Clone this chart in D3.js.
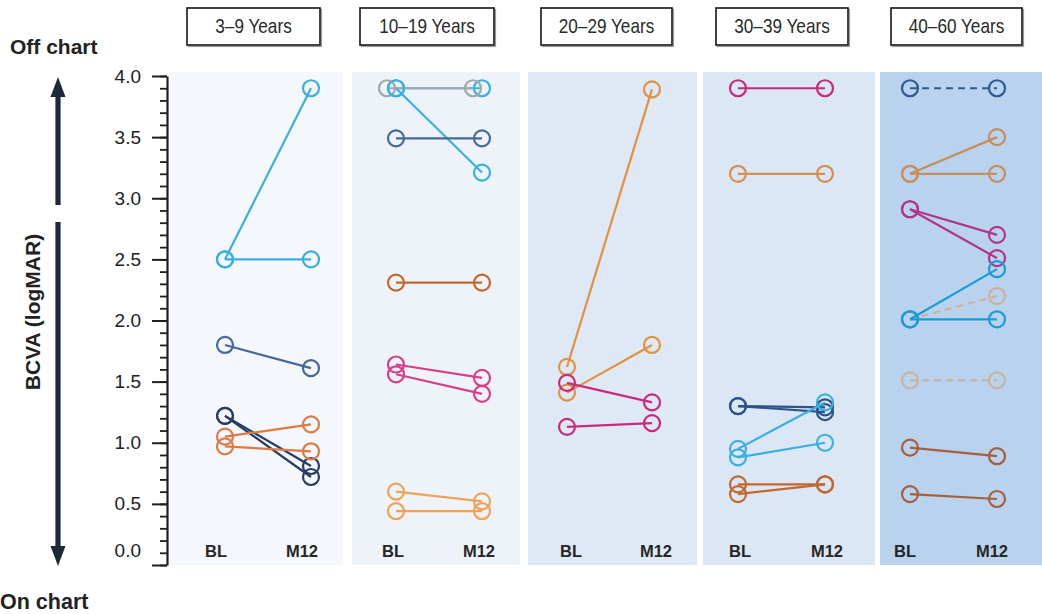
<!DOCTYPE html>
<html>
<head>
<meta charset="utf-8">
<script src="https://cdn.jsdelivr.net/npm/d3@7"></script>
<style>
  html, body { margin: 0; padding: 0; background: #ffffff; }
  svg { display: block; }
</style>
</head>
<body>
<svg id="chart" width="1042" height="614"></svg>
<script>
// ---- data -------------------------------------------------------------
const ageGroups = ["3–9 Years", "10–19 Years", "20–29 Years", "30–39 Years", "40–60 Years"];
const timepoints = ["BL", "M12"];
const majorTicks = [0, 0.5, 1, 1.5, 2, 2.5, 3, 3.5, 4];
const minorTicks = d3.range(0, 41).map(i => i / 10);

// one entry per eye: baseline and month-12 BCVA (logMAR)
const eyes3to9 = [
  { tone: "sky",    bl: 2.5,  m12: 3.9 },
  { tone: "sky",    bl: 2.5,  m12: 2.5 },
  { tone: "steel",  bl: 1.8,  m12: 1.61 },
  { tone: "navy",   bl: 1.22, m12: 0.81 },
  { tone: "navy",   bl: 1.22, m12: 0.72 },
  { tone: "orange", bl: 1.05, m12: 1.15 },
  { tone: "orange", bl: 0.97, m12: 0.93 }
];
const eyes10to19 = [
  { tone: "sky",     bl: 3.9,  m12: 3.9 },
  { tone: "grey",    bl: 3.9,  m12: 3.9 },
  { tone: "sky",     bl: 3.9,  m12: 3.21 },
  { tone: "steel",   bl: 3.49, m12: 3.49 },
  { tone: "rust",    bl: 2.31, m12: 2.31 },
  { tone: "pink",    bl: 1.64, m12: 1.53 },
  { tone: "pink",    bl: 1.56, m12: 1.40 },
  { tone: "apricot", bl: 0.60, m12: 0.52 },
  { tone: "apricot", bl: 0.44, m12: 0.44 }
];
const eyes20to29 = [
  { tone: "amber",   bl: 1.62, m12: 3.89 },
  { tone: "amber",   bl: 1.41, m12: 1.80 },
  { tone: "magenta", bl: 1.49, m12: 1.33 },
  { tone: "magenta", bl: 1.13, m12: 1.16 }
];
const eyes30to39 = [
  { tone: "magenta", bl: 3.9,  m12: 3.9 },
  { tone: "tan",     bl: 3.2,  m12: 3.2 },
  { tone: "navy2",   bl: 1.30, m12: 1.29 },
  { tone: "navy2",   bl: 1.30, m12: 1.25 },
  { tone: "sky",     bl: 0.95, m12: 1.33 },
  { tone: "sky",     bl: 0.88, m12: 1.00 },
  { tone: "rust",    bl: 0.66, m12: 0.66 },
  { tone: "rust",    bl: 0.58, m12: 0.66 }
];
const eyes40to60 = [
  { tone: "navyDash", bl: 3.9,  m12: 3.9 },
  { tone: "camel",    bl: 3.2,  m12: 3.5 },
  { tone: "camel",    bl: 3.2,  m12: 3.2 },
  { tone: "plum",     bl: 2.91, m12: 2.70 },
  { tone: "plum",     bl: 2.91, m12: 2.51 },
  { tone: "sandDash", bl: 2.01, m12: 2.20 },
  { tone: "azure",    bl: 2.01, m12: 2.42 },
  { tone: "azure",    bl: 2.01, m12: 2.01 },
  { tone: "sandDash", bl: 1.51, m12: 1.51 },
  { tone: "brown",    bl: 0.96, m12: 0.89 },
  { tone: "brown",    bl: 0.58, m12: 0.54 }
];
const eyesByGroup = [eyes3to9, eyes10to19, eyes20to29, eyes30to39, eyes40to60];

// ---- styles -----------------------------------------------------------
const tones = {
  sky:      { color: "#38b1e0" },
  steel:    { color: "#46699a" },
  navy:     { color: "#283c63" },
  navy2:    { color: "#2d5389" },
  orange:   { color: "#df7a43" },
  grey:     { color: "#a3a7ab", nudge: -9 },
  rust:     { color: "#c0682f" },
  pink:     { color: "#d83f88" },
  apricot:  { color: "#eda458" },
  amber:    { color: "#e2923f" },
  magenta:  { color: "#c92a7d" },
  tan:      { color: "#d8904e" },
  navyDash: { color: "#2e5b93", dash: "7,5" },
  camel:    { color: "#c68f5c" },
  plum:     { color: "#b1358a" },
  azure:    { color: "#1c9bd6" },
  sandDash: { color: "#c9b2a2", dash: "7,5" },
  brown:    { color: "#a65f3d" }
};

// panel layout: background extent, the two timepoint columns, header box
const panelLayout = [
  { x0: 170, x1: 343,  bl: 225, m12: 311, bg: "#f4f7fc", box: [187, 320], lab: -9 },
  { x0: 352, x1: 520,  bl: 396, m12: 482, bg: "#eef3fa", box: [360, 494], lab: -3 },
  { x0: 528, x1: 697,  bl: 567, m12: 652, bg: "#dfe9f6", box: [541, 672], lab: 4 },
  { x0: 703, x1: 875,  bl: 738, m12: 825, bg: "#dbe7f5", box: [716, 848], lab: 2 },
  { x0: 880, x1: 1042, bl: 910, m12: 997, bg: "#b9d2ee", box: [891, 1022], lab: -5 }
];

const ink = "#1f1f1f";
const sans = "'Liberation Sans', Arial, sans-serif";
const svg = d3.select("#chart");
const y = d3.scaleLinear().domain([0, 4]).range([565, 76]);
const plotTop = 72, plotBottom = 565;

// ---- panels -----------------------------------------------------------
panelLayout.forEach((p, i) => {
  const g = svg.append("g");
  g.append("rect")
    .attr("x", p.x0).attr("y", plotTop)
    .attr("width", p.x1 - p.x0).attr("height", plotBottom - plotTop)
    .attr("fill", p.bg);

  const x = d3.scalePoint().domain(timepoints).range([p.bl, p.m12]);

  // header box with a light drop shadow
  const bw = p.box[1] - p.box[0];
  g.append("rect")
    .attr("x", p.box[0] + 1.5).attr("y", 9.5)
    .attr("width", bw).attr("height", 37)
    .attr("fill", "none").attr("stroke", "#9a9a9a").attr("stroke-width", 1.2);
  g.append("rect")
    .attr("x", p.box[0]).attr("y", 8)
    .attr("width", bw).attr("height", 37)
    .attr("fill", "#ffffff").attr("stroke", "#222").attr("stroke-width", 1.7);
  // condensed header text
  g.append("text")
    .attr("transform", `translate(${p.box[0] + bw / 2},33) scale(0.86,1)`)
    .attr("text-anchor", "middle")
    .attr("font-family", sans)
    .attr("font-size", 20)
    .attr("fill", "#2a2a2a")
    .text(ageGroups[i]);

  // eyes: line between timepoints, open circle at each end
  eyesByGroup[i].forEach(d => {
    const t = tones[d.tone];
    const dx = t.nudge || 0;
    const pts = [[x("BL") + dx, y(d.bl)], [x("M12") + dx, y(d.m12)]];
    g.append("path")
      .attr("d", d3.line()(pts))
      .attr("fill", "none")
      .attr("stroke", t.color)
      .attr("stroke-width", 2.2)
      .attr("stroke-dasharray", t.dash || null);
    g.selectAll(null).data(pts).join("circle")
      .attr("cx", q => q[0]).attr("cy", q => q[1])
      .attr("r", 8)
      .attr("fill", "none")
      .attr("stroke", t.color)
      .attr("stroke-width", 2.2);
  });

  // timepoint labels
  g.selectAll(null).data(timepoints).join("text")
    .attr("x", d => x(d) + p.lab)
    .attr("y", 557)
    .attr("text-anchor", "middle")
    .attr("font-family", sans)
    .attr("font-weight", "bold")
    .attr("font-size", 16.5)
    .attr("fill", "#262626")
    .text(d => d);
});

// ---- y axis -----------------------------------------------------------
const axisX = 167;
const minorAxis = svg.append("g")
  .attr("transform", `translate(${axisX},0)`)
  .call(d3.axisLeft(y).tickValues(minorTicks).tickSize(7).tickSizeOuter(0).tickFormat(""));
minorAxis.select(".domain").remove();
minorAxis.selectAll("line").attr("stroke", ink).attr("stroke-width", 1.8);

const majorAxis = svg.append("g")
  .attr("transform", `translate(${axisX},0)`)
  .call(d3.axisLeft(y).tickValues(majorTicks).tickSize(15).tickSizeOuter(0)
    .tickPadding(11).tickFormat(d3.format(".1f")));
majorAxis.select(".domain").attr("stroke", ink).attr("stroke-width", 2.2);
majorAxis.selectAll("line").attr("stroke", ink).attr("stroke-width", 2);
majorAxis.selectAll("text")
  .attr("font-family", sans)
  .attr("font-size", 19)
  .attr("fill", "#222");
majorAxis.selectAll(".tick").filter(d => d === 0).select("text").attr("dy", "-0.45em");

// ---- left annotation: off / on chart arrow -----------------------------
const arrowColor = "#1e2838";
const arrowX = 58;
svg.append("rect")
  .attr("x", arrowX - 2.6).attr("y", 94).attr("width", 5.2).attr("height", 111)
  .attr("fill", arrowColor);
svg.append("path")
  .attr("d", `M${arrowX},77 L${arrowX + 7.5},97 L${arrowX - 7.5},97 Z`)
  .attr("fill", arrowColor);
svg.append("rect")
  .attr("x", arrowX - 2.6).attr("y", 222).attr("width", 5.2).attr("height", 326)
  .attr("fill", arrowColor);
svg.append("path")
  .attr("d", `M${arrowX},566 L${arrowX + 7.5},546 L${arrowX - 7.5},546 Z`)
  .attr("fill", arrowColor);

svg.append("text")
  .attr("x", 10).attr("y", 54)
  .attr("font-family", sans).attr("font-weight", "bold").attr("font-size", 21)
  .attr("fill", "#222").text("Off chart");
svg.append("text")
  .attr("x", 0).attr("y", 609)
  .attr("font-family", sans).attr("font-weight", "bold").attr("font-size", 21.5)
  .attr("fill", "#222").text("On chart");
svg.append("text")
  .attr("transform", "translate(40,312) rotate(-90)")
  .attr("text-anchor", "middle")
  .attr("font-family", sans).attr("font-weight", "bold").attr("font-size", 21)
  .attr("fill", "#222").text("BCVA (logMAR)");
</script>
</body>
</html>
